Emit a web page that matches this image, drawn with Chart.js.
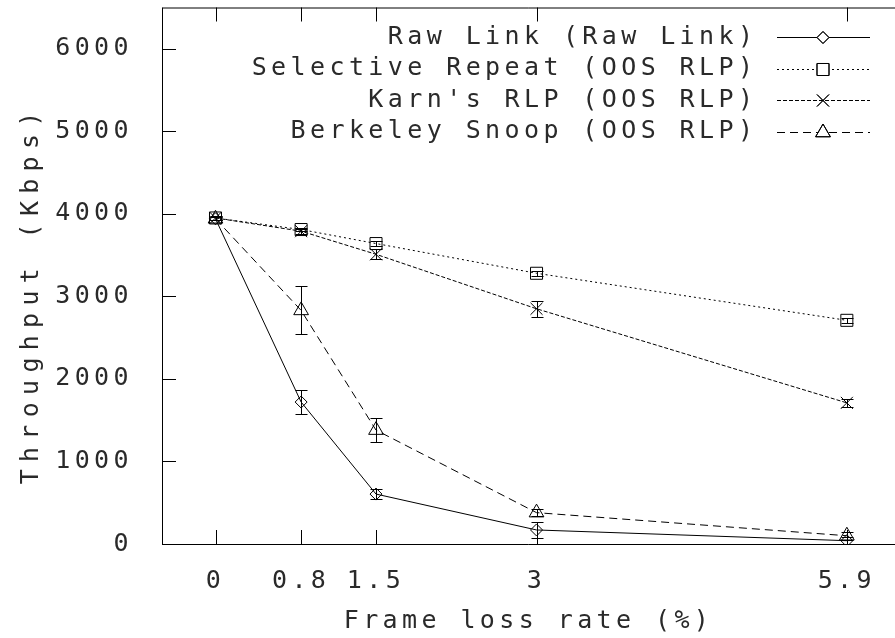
<!DOCTYPE html>
<html>
<head>
<meta charset="utf-8">
<script src="https://cdn.jsdelivr.net/npm/chart.js@4/dist/chart.umd.min.js"></script>
<style>
  html, body { margin: 0; padding: 0; background: #fff; }
  #wrap { width: 895px; height: 638px; }
</style>
</head>
<body>
<div id="wrap"><canvas id="lossChart"></canvas></div>
<script>
// frame loss rate (%) on x, throughput (Kbps) on y
const lossRates = [0, 0.8, 1.5, 3, 5.9];
const xTickLabels = ["0", "0.8", "1.5", "3", "5.9"];
const yTickValues = [0, 1000, 2000, 3000, 4000, 5000, 6000];

const seriesNames = [
  "Raw Link (Raw Link)",
  "Selective Repeat (OOS RLP)",
  "Karn's RLP (OOS RLP)",
  "Berkeley Snoop (OOS RLP)"
];

const rawLink = [3940, 1720, 605, 170, 40];
const rawLinkErr = [20, 145, 65, 100, 40];
const selectiveRepeat = [3950, 3810, 3640, 3280, 2710];
const selectiveRepeatErr = [20, 20, 30, 30, 30];
const karnRlp = [3950, 3790, 3510, 2850, 1710];
const karnRlpErr = [20, 30, 60, 100, 50];
const berkeleySnoop = [3940, 2830, 1380, 380, 100];
const berkeleySnoopErr = [20, 290, 150, 40, 50];

const yTitle = "Throughput (Kbps)";

const FONT = "'DejaVu Sans Mono', monospace";
const SPACING = 4.4;
const INK = "#000";
const TEXT = "#2a2a2a";

Chart.defaults.font.family = FONT;
Chart.defaults.font.size = 25;
Chart.defaults.color = TEXT;

const toPoints = (vals) => vals.map((v, i) => ({ x: lossRates[i], y: v }));

const seriesStyles = [
  { dash: [], point: "rectRot", radius: 6 },
  { dash: [2, 3], point: "rect", radius: 8.5 },
  { dash: [4, 2], point: "crossRot", radius: 8.5 },
  { dash: [8, 5], point: "triangle", radius: 8.5 }
];
const seriesValues = [rawLink, selectiveRepeat, karnRlp, berkeleySnoop];
const seriesErrors = [rawLinkErr, selectiveRepeatErr, karnRlpErr, berkeleySnoopErr];

const datasets = seriesNames.map((name, k) => ({
  label: name,
  data: toPoints(seriesValues[k]),
  errors: seriesErrors[k],
  borderColor: INK,
  borderWidth: 1,
  borderDash: seriesStyles[k].dash,
  pointStyle: seriesStyles[k].point,
  pointRadius: seriesStyles[k].radius,
  pointBorderColor: INK,
  pointBorderWidth: 1,
  pointBackgroundColor: "rgba(0,0,0,0)",
  tension: 0,
  fill: false
}));

const noPad = (s) => {
  s.paddingTop = 0;
  s.paddingBottom = 0;
  s.paddingLeft = 0;
  s.paddingRight = 0;
};

// gnuplot style frame with inward ticks
const framePlugin = {
  id: "frame",
  beforeDraw(chart) {
    chart.ctx.letterSpacing = SPACING + "px";
  },
  beforeDatasetsDraw(chart) {
    const { ctx, chartArea: a, scales } = chart;
    ctx.save();
    ctx.strokeStyle = INK;
    ctx.lineWidth = 1;
    ctx.setLineDash([]);
    ctx.beginPath();
    ctx.moveTo(a.left + 0.5, a.top + 0.5);
    ctx.lineTo(a.right, a.top + 0.5);
    ctx.moveTo(a.left + 0.5, a.top);
    ctx.lineTo(a.left + 0.5, a.bottom + 0.5);
    ctx.lineTo(a.right, a.bottom + 0.5);
    const t = 14;
    scales.x.ticks.forEach((tk) => {
      const x = Math.round(scales.x.getPixelForValue(tk.value)) + 0.5;
      ctx.moveTo(x, a.bottom);
      ctx.lineTo(x, a.bottom - t);
      ctx.moveTo(x, a.top);
      ctx.lineTo(x, a.top + t);
    });
    scales.y.ticks.forEach((tk) => {
      const y = Math.round(scales.y.getPixelForValue(tk.value)) + 0.5;
      ctx.moveTo(a.left, y);
      ctx.lineTo(a.left + t, y);
    });
    ctx.stroke();
    ctx.restore();
  },
  afterDatasetsDraw(chart) {
    const { ctx, scales } = chart;
    ctx.save();
    ctx.strokeStyle = INK;
    ctx.lineWidth = 1;
    ctx.setLineDash([]);
    ctx.beginPath();
    chart.data.datasets.forEach((ds) => {
      ds.data.forEach((p, j) => {
        const e = ds.errors[j];
        const x = Math.round(scales.x.getPixelForValue(p.x)) + 0.5;
        const y1 = Math.round(scales.y.getPixelForValue(Math.max(0, p.y - e))) + 0.5;
        const y2 = Math.round(scales.y.getPixelForValue(p.y + e)) + 0.5;
        ctx.moveTo(x, y1);
        ctx.lineTo(x, y2);
        ctx.moveTo(x - 6, y1);
        ctx.lineTo(x + 6, y1);
        ctx.moveTo(x - 6, y2);
        ctx.lineTo(x + 6, y2);
      });
    });
    ctx.stroke();
    ctx.restore();
  },
  afterDraw(chart) {
    const { ctx } = chart;
    ctx.save();
    ctx.font = "25px " + FONT;
    ctx.textAlign = "right";
    ctx.textBaseline = "middle";
    chart.data.datasets.forEach((ds, k) => {
      const y = 37 + k * 31.6;
      const ly = Math.round(y) + 0.5;
      ctx.fillStyle = TEXT;
      ctx.fillText(ds.label, 753 + SPACING, y);
      ctx.strokeStyle = INK;
      ctx.lineWidth = 1;
      ctx.setLineDash(ds.borderDash);
      ctx.beginPath();
      ctx.moveTo(777, ly);
      ctx.lineTo(870, ly);
      ctx.stroke();
      ctx.setLineDash([]);
      ctx.fillStyle = "#fff";
      Chart.helpers.drawPoint(ctx, {
        pointStyle: ds.pointStyle,
        radius: ds.pointRadius,
        borderWidth: 1
      }, 823, ly);
      ctx.stroke();
    });
    // rotated y axis title, wider spacing as in the original
    const ySp = 7.3;
    ctx.letterSpacing = ySp + "px";
    ctx.translate(31, 298);
    ctx.rotate(-Math.PI / 2);
    ctx.textAlign = "center";
    ctx.fillStyle = TEXT;
    ctx.fillText(yTitle, ySp / 2, 0);
    ctx.restore();
  }
};

new Chart(document.getElementById("lossChart"), {
  type: "line",
  data: { datasets: datasets },
  options: {
    responsive: true,
    maintainAspectRatio: false,
    animation: false,
    layout: { padding: { top: 7.5, right: 0, left: 0, bottom: 0 }, autoPadding: false },
    plugins: {
      legend: { display: false },
      tooltip: { enabled: false }
    },
    scales: {
      x: {
        type: "linear",
        min: -0.5,
        max: 6.35,
        afterBuildTicks: (s) => { s.ticks = lossRates.map((v) => ({ value: v })); },
        afterFit: (s) => { s.height = 94; noPad(s); },
        grid: { display: false },
        border: { display: false },
        ticks: {
          autoSkip: false,
          maxRotation: 0,
          padding: 14,
          color: TEXT,
          callback: (v, i) => xTickLabels[i]
        },
        title: {
          display: true,
          text: "Frame loss rate (%)",
          color: TEXT,
          padding: { top: 0, bottom: 2 }
        }
      },
      y: {
        min: 0,
        max: 6500,
        afterBuildTicks: (s) => { s.ticks = yTickValues.map((v) => ({ value: v })); },
        afterFit: (s) => { s.width = 162; noPad(s); },
        grid: { display: false },
        border: { display: false },
        ticks: { padding: 21, color: TEXT, callback: (v) => String(v) },
        title: { display: false }
      }
    }
  },
  plugins: [framePlugin]
});
</script>
</body>
</html>
